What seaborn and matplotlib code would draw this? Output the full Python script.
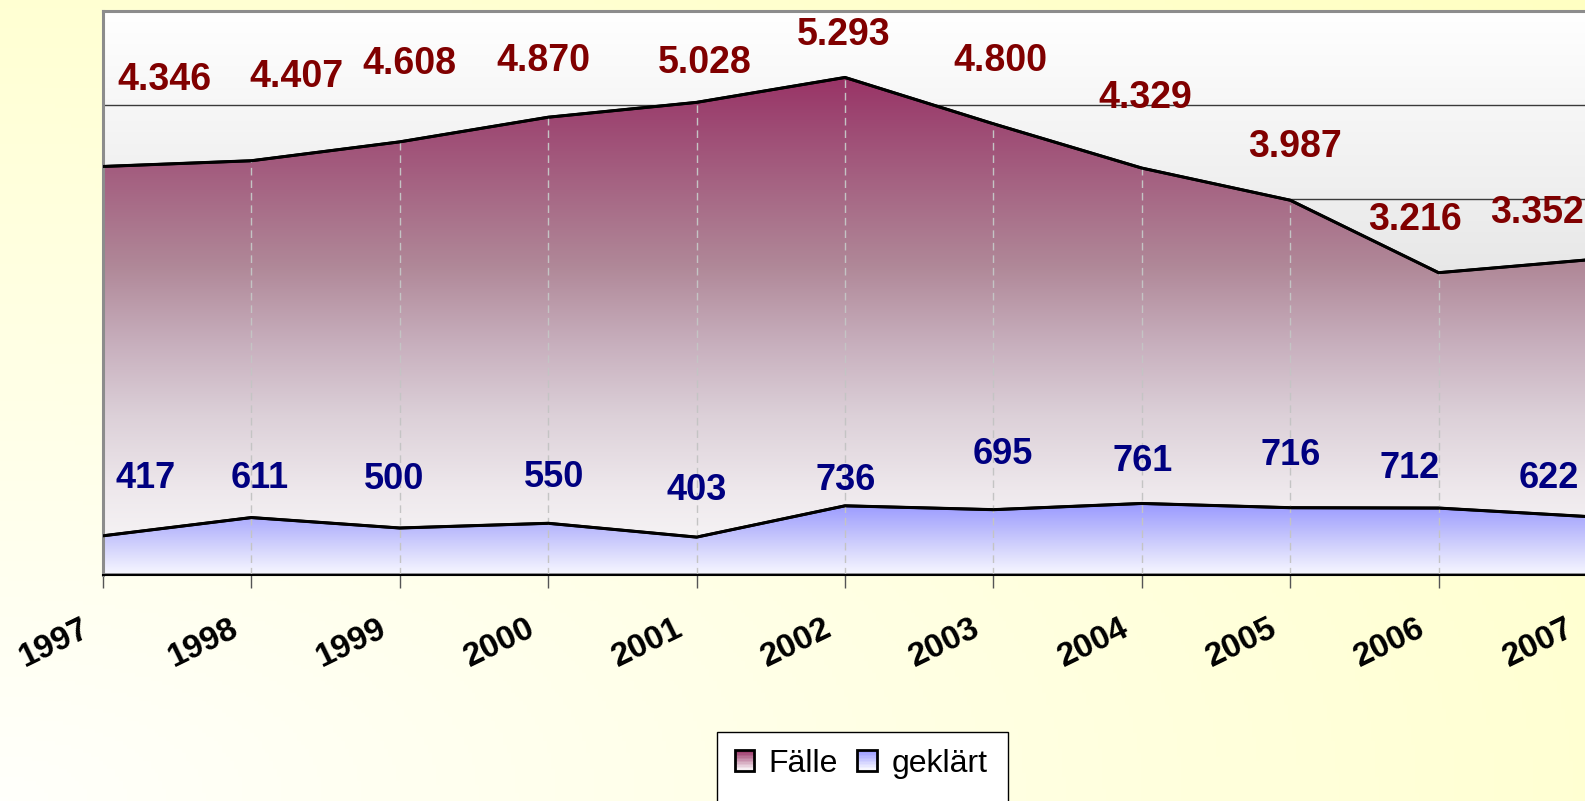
import numpy as np
import pandas as pd
import matplotlib
matplotlib.use("Agg")
import matplotlib.pyplot as plt
import seaborn as sns
from matplotlib.transforms import ScaledTranslation
from matplotlib.patches import Rectangle, Patch
from matplotlib.legend_handler import HandlerBase
from matplotlib.colors import LinearSegmentedColormap, to_rgb

# ---------------- data ----------------
years = ["1997", "1998", "1999", "2000", "2001", "2002", "2003", "2004", "2005", "2006", "2007"]
faelle = [4346, 4407, 4608, 4870, 5028, 5293, 4800, 4329, 3987, 3216, 3352]
geklaert = [417, 611, 500, 550, 403, 736, 695, 761, 716, 712, 622]
series_names = ["Fälle", "geklärt"]

# label offsets (pixels) - styling
faelle_off = [(61, 86), (45, 84), (10, 78), (-5, 56), (8, 39), (-1, 42), (7, 63), (3, 70), (5, 53), (-24, 53), (-50, 47)]
gekl_off = [(43, 57), (8, 39), (-6, 48), (6, 46), (0, 47), (1, 25), (9, 55), (1, 42), (0, 52), (-29, 40), (-38, 38)]

df = pd.DataFrame({"idx": np.arange(len(years)), "year": years,
                   "Fälle": faelle, "geklärt": geklaert})

sns.set_theme(style="white")
plt.rcParams["font.family"] = ["Liberation Sans", "DejaVu Sans"]
plt.rcParams["text.color"] = "black"

W, H = 1585, 801
fig = plt.figure(figsize=(W / 100, H / 100), dpi=100)

# figure background gradient
bgax = fig.add_axes([0, 0, 1, 1], zorder=-10)
yy, xx = np.mgrid[0:1:200j, 0:1:400j]
t = np.sqrt(xx ** 2 + yy ** 2) / np.sqrt(2)
c0 = np.array([1.0, 1.0, 0.985])
c1 = np.array(to_rgb("#FFFFC2"))
bgimg = c0 + (c1 - c0) * np.clip(t, 0, 1)[..., None]
bgax.imshow(bgimg, origin="lower", extent=[0, 1, 0, 1], aspect="auto")
bgax.set_axis_off()

# main axes
left, right, top, bottom = 103, 1587, 11, 575
ax = fig.add_axes([left / W, 1 - bottom / H, (right - left) / W, (bottom - top) / H])
ax.set_facecolor("none")

ymax = 6000
# plot-area gradient
pa_cmap = LinearSegmentedColormap.from_list("pa", ["#CCCCCC", "#FFFFFF"])
ax.imshow(np.linspace(0, 1, 256)[:, None], extent=[0, len(years) - 1, 0, ymax],
          origin="lower", aspect="auto", cmap=pa_cmap, zorder=0)

# horizontal gridlines
ax.hlines(np.arange(1000, ymax, 1000), 0, len(years) - 1, colors="#3a3a3a", lw=1.0, zorder=0.5)

x = df["idx"].values


def grad_area(yvals, stops, zorder):
    poly = ax.fill_between(x, 0, yvals, facecolor="none", edgecolor="black", lw=2.0, zorder=zorder + 0.2)
    cm = LinearSegmentedColormap.from_list("g", stops)
    im = ax.imshow(np.linspace(0, 1, 256)[:, None], extent=[0, len(years) - 1, 0, max(yvals)],
                   origin="lower", aspect="auto", cmap=cm, zorder=zorder)
    im.set_clip_path(poly.get_paths()[0], transform=ax.transData)


faelle_stops = [(0.0, "#FAFAFA"), (0.17, "#EEE8EC"), (0.32, "#DCD0D8"), (0.46, "#C8B0BE"),
                (0.62, "#B08898"), (0.93, "#9C4470"), (1.0, "#993366")]
gekl_stops = [(0.0, "#F8F8FF"), (0.5, "#C8C8FC"), (1.0, "#9999FF")]
grad_area(df["Fälle"].values, faelle_stops, 1)
grad_area(df["geklärt"].values, gekl_stops, 2)

# drop lines
ax.vlines(x, 0, df["Fälle"].values, colors="#C4C4C4", linestyles=(0, (5.5, 3.5)), lw=1.0, zorder=2.5)

# data lines via seaborn
sns.lineplot(data=df, x="idx", y="Fälle", color="black", lw=2.2, ax=ax, zorder=3, legend=False)
sns.lineplot(data=df, x="idx", y="geklärt", color="black", lw=2.2, ax=ax, zorder=3, legend=False)

ax.set_xlim(0, len(years) - 1)
ax.set_ylim(0, ymax)
ax.set_xlabel("")
ax.set_ylabel("")
ax.set_yticks([])


def fmt(v):
    return f"{v:,}".replace(",", ".")


for i, v in enumerate(df["Fälle"]):
    ax.annotate(fmt(v), (i, v), xytext=faelle_off[i], textcoords="offset pixels",
                ha="center", va="center", fontsize=27, fontweight="bold", color="#800000", zorder=5)
for i, v in enumerate(df["geklärt"]):
    ax.annotate(fmt(v), (i, v), xytext=gekl_off[i], textcoords="offset pixels",
                ha="center", va="center", fontsize=26, fontweight="bold", color="#000080", zorder=5)

# x ticks
ax.set_xticks(x)
ax.set_xticklabels(years, rotation=26, ha="right", va="top", rotation_mode="anchor",
                   fontsize=24, fontweight="bold", color="black")
ax.tick_params(axis="x", bottom=True, length=9, width=1.0, color="#555555", pad=0)
off = ScaledTranslation(-22 / 100, -25 / 100, fig.dpi_scale_trans)
for lab in ax.get_xticklabels():
    lab.set_transform(lab.get_transform() + off)

# spines
for s in ["top", "left"]:
    ax.spines[s].set_color("#8C8C8C")
    ax.spines[s].set_linewidth(2.2)
ax.spines["right"].set_visible(False)
ax.spines["bottom"].set_color("black")
ax.spines["bottom"].set_linewidth(1.5)


# legend with gradient handles
class GradHandler(HandlerBase):
    def __init__(self, top_color, bottom_color="#FFFFFF"):
        super().__init__()
        self.top = np.array(to_rgb(top_color))
        self.bot = np.array(to_rgb(bottom_color))

    def create_artists(self, legend, orig_handle, xdescent, ydescent, width, height, fontsize, trans):
        arts = []
        n = 14
        for k in range(n):
            f = k / (n - 1)
            col = self.top * (1 - f) + self.bot * f
            y0 = -ydescent + height * (1 - (k + 1) / n)
            arts.append(Rectangle((-xdescent, y0), width, height / n, facecolor=col,
                                  edgecolor="none", transform=trans))
        arts.append(Rectangle((-xdescent, -ydescent), width, height, facecolor="none",
                              edgecolor="black", lw=2.0, transform=trans))
        return arts


h1 = Patch(label=series_names[0])
h2 = Patch(label=series_names[1])
fig.add_artist(Rectangle((717 / W, 1 - 806 / H), 291 / W, 74 / H, transform=fig.transFigure,
                         facecolor="white", edgecolor="black", lw=1.0, zorder=1))
leg = fig.legend(handles=[h1, h2], labels=series_names, loc="center",
                 bbox_to_anchor=(861 / W, 1 - 764 / H), bbox_transform=fig.transFigure,
                 ncol=2, frameon=False, fontsize=23, handlelength=0.62, handleheight=0.62,
                 handletextpad=0.45, columnspacing=0.6, labelcolor="black",
                 handler_map={h1: GradHandler("#993366"), h2: GradHandler("#9999FF")})
leg.set_zorder(6)

fig.savefig("out.png", dpi=100)
